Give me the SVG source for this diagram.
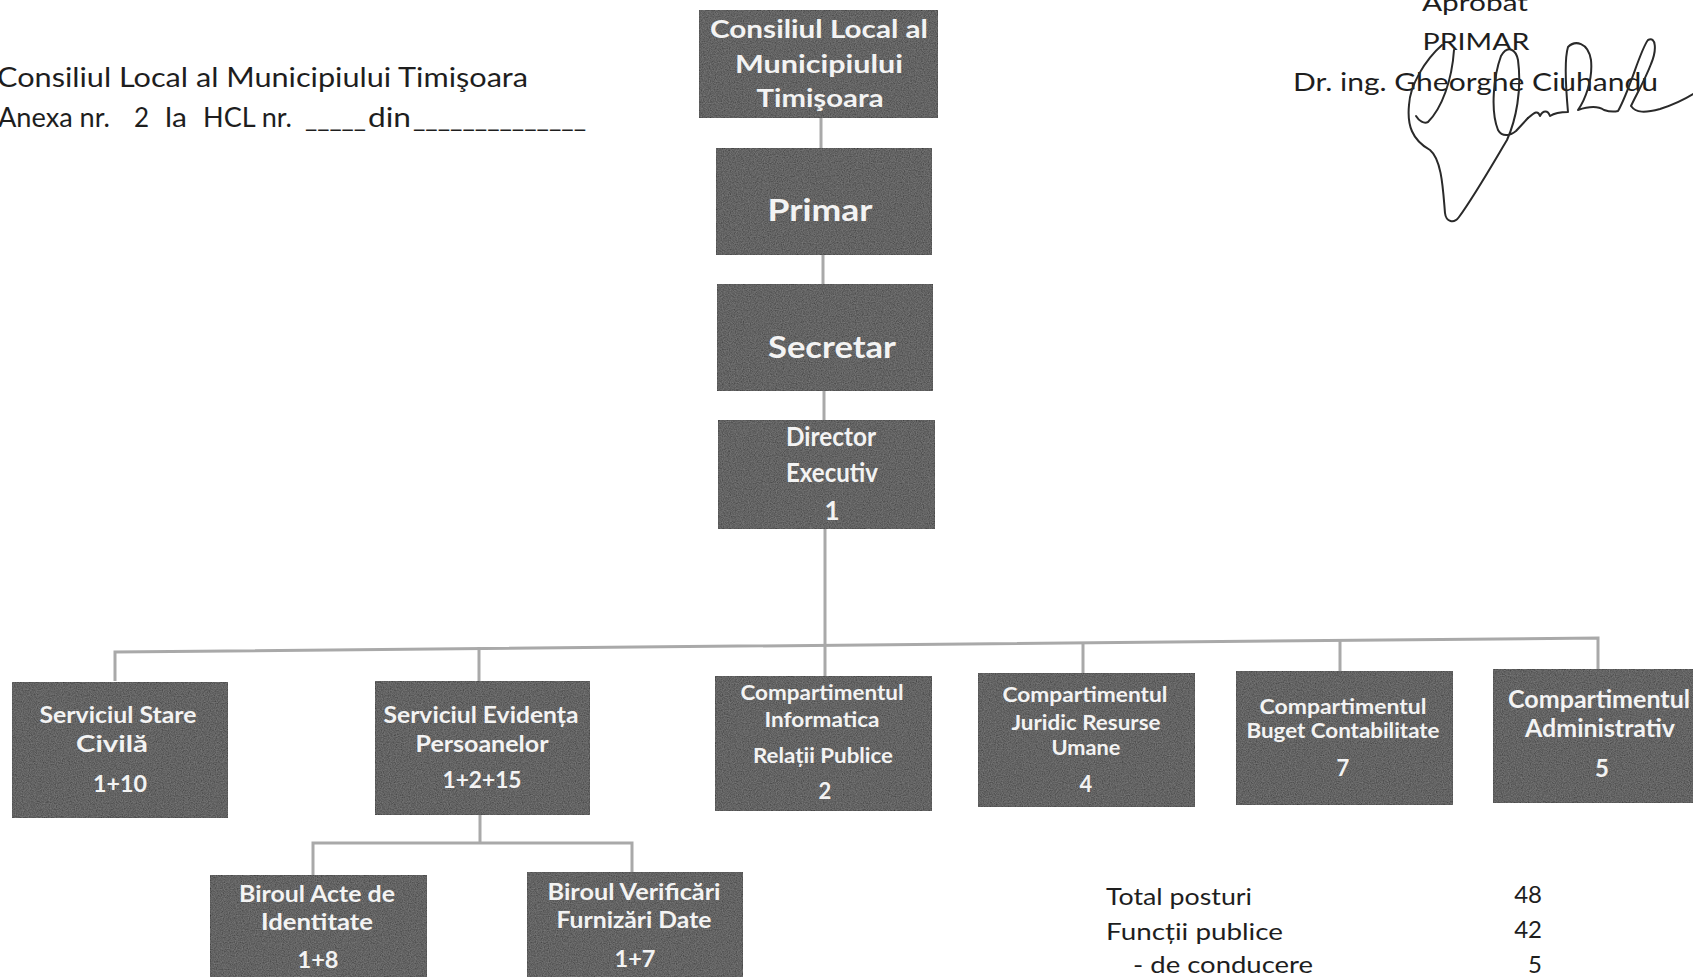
<svg xmlns="http://www.w3.org/2000/svg" width="1693" height="977" viewBox="0 0 1693 977">
<defs>
<filter id="grain" x="0" y="0" width="1" height="1">
<feTurbulence type="fractalNoise" baseFrequency="0.85" numOctaves="2" seed="3" result="n"/>
<feColorMatrix in="n" type="matrix" values="0 0 0 0 0.42  0 0 0 0 0.42  0 0 0 0 0.42  0 0 0 0.45 0" result="g"/>
<feComposite in="g" in2="SourceGraphic" operator="in" result="gi"/>
<feMerge><feMergeNode in="SourceGraphic"/><feMergeNode in="gi"/></feMerge>
</filter>
</defs>
<style>
.box{fill:#3b3b3b;stroke:#222222;stroke-width:1.5;filter:url(#grain)}
.bt{font-family:Lato,"Open Sans","Liberation Sans",sans-serif;font-weight:bold;fill:#f3f3f3;text-anchor:middle}
.rt{font-family:Lato,"Open Sans","Liberation Sans",sans-serif;fill:#1e1e1e}
.con{fill:none;stroke:#a9a9a9;stroke-width:3}
.sig{fill:none;stroke:#2a2a2a;stroke-width:2;stroke-linecap:round;stroke-linejoin:round}
</style>
<rect width="1693" height="977" fill="#ffffff"/>

<g id="header-left">
<text class="rt" x="-3" y="87" font-size="26" textLength="531" lengthAdjust="spacingAndGlyphs">Consiliul Local al Municipiului Timişoara</text>
<text class="rt" x="-2" y="127" font-size="26" textLength="112" lengthAdjust="spacingAndGlyphs">Anexa nr.</text>
<text class="rt" x="134" y="127" font-size="26">2</text>
<text class="rt" x="165" y="127" font-size="26" textLength="22" lengthAdjust="spacingAndGlyphs">la</text>
<text class="rt" x="203" y="127" font-size="26" textLength="89" lengthAdjust="spacingAndGlyphs">HCL nr.</text>
<text class="rt" x="305" y="127" font-size="26" textLength="61" lengthAdjust="spacingAndGlyphs">_____</text>
<text class="rt" x="368" y="127" font-size="26" textLength="43" lengthAdjust="spacingAndGlyphs">din</text>
<text class="rt" x="413" y="127" font-size="26" textLength="173" lengthAdjust="spacingAndGlyphs">______________</text>
</g>

<g id="header-right">
<text class="rt" x="1475" y="11" font-size="24" text-anchor="middle" textLength="106" lengthAdjust="spacingAndGlyphs">Aprobat</text>
<text class="rt" x="1476" y="50" font-size="24" text-anchor="middle" textLength="107" lengthAdjust="spacingAndGlyphs">PRIMAR</text>
<text class="rt" x="1293" y="91" font-size="25" textLength="365" lengthAdjust="spacingAndGlyphs">Dr. ing. Gheorghe Ciuhandu</text>
<path class="sig" d="M1454,50 C1452,80 1442,108 1428,122 C1424,124 1419,121 1416,116"/>
<path class="sig" d="M1442,45 C1425,60 1410,85 1409,105 C1407,125 1412,140 1430,150 C1442,160 1443,190 1445,213 C1446,222 1454,224 1459,217 C1475,195 1495,160 1507,140 C1516,120 1522,90 1518,60 C1516,50 1508,44 1501,56 C1494,75 1490,110 1498,130 C1502,137 1510,136 1516,131 L1528,118"/>
<path class="sig" d="M1528,118 C1535,112 1538,110 1540,116 C1543,110 1548,110 1550,116 C1556,112 1562,112 1568,112 C1566,90 1564,60 1568,47 C1575,40 1588,42 1591,60 C1593,80 1585,100 1578,110 C1590,106 1598,106 1604,110 C1610,112 1614,112 1618,111 C1630,90 1640,50 1648,40 C1656,36 1657,50 1651,64 C1645,80 1636,95 1631,106 C1636,113 1645,113 1660,109 C1672,105 1685,99 1693,94"/>
</g>

<g id="connectors">
<path class="con" d="M821,118 V148"/>
<path class="con" d="M823,255 V284"/>
<path class="con" d="M824,391 V420"/>
<path class="con" d="M825,529 V676"/>
<path class="con" d="M115,681 V652 L1598,638 V669"/>
<path class="con" d="M479,647 V681"/>
<path class="con" d="M1083,642 V673"/>
<path class="con" d="M1340,640 V671"/>
<path class="con" d="M480,815 V843"/>
<path class="con" d="M313,875 V843 H632 V872"/>
</g>

<g id="n-consiliu">
<rect class="box" x="699" y="10" width="239" height="108"/>
<text class="bt" x="819" y="38" font-size="25" textLength="218" lengthAdjust="spacingAndGlyphs">Consiliul Local al</text>
<text class="bt" x="819" y="73" font-size="25" textLength="168" lengthAdjust="spacingAndGlyphs">Municipiului</text>
<text class="bt" x="820" y="107" font-size="25" textLength="127" lengthAdjust="spacingAndGlyphs">Timişoara</text>
</g>

<g id="n-primar">
<rect class="box" x="716" y="148" width="216" height="107"/>
<text class="bt" x="820" y="221" font-size="31" textLength="105" lengthAdjust="spacingAndGlyphs">Primar</text>
</g>

<g id="n-secretar">
<rect class="box" x="717" y="284" width="216" height="107"/>
<text class="bt" x="832" y="358" font-size="31" textLength="128" lengthAdjust="spacingAndGlyphs">Secretar</text>
</g>

<g id="n-director">
<rect class="box" x="718" y="420" width="217" height="109"/>
<text class="bt" x="831" y="446" font-size="26" textLength="90" lengthAdjust="spacingAndGlyphs">Director</text>
<text class="bt" x="832" y="482" font-size="26" textLength="92" lengthAdjust="spacingAndGlyphs">Executiv</text>
<text class="bt" x="832" y="520" font-size="26">1</text>
</g>

<g id="n-stare">
<rect class="box" x="12" y="682" width="216" height="136"/>
<text class="bt" x="118" y="723" font-size="22" textLength="157" lengthAdjust="spacingAndGlyphs">Serviciul Stare</text>
<text class="bt" x="112" y="752" font-size="22" textLength="72" lengthAdjust="spacingAndGlyphs">Civilă</text>
<text class="bt" x="120" y="792" font-size="23" textLength="54" lengthAdjust="spacingAndGlyphs">1+10</text>
</g>

<g id="n-evidenta">
<rect class="box" x="375" y="681" width="215" height="134"/>
<text class="bt" x="481" y="723" font-size="22" textLength="195" lengthAdjust="spacingAndGlyphs">Serviciul Evidența</text>
<text class="bt" x="482" y="752" font-size="22" textLength="133" lengthAdjust="spacingAndGlyphs">Persoanelor</text>
<text class="bt" x="482" y="788" font-size="23" textLength="79" lengthAdjust="spacingAndGlyphs">1+2+15</text>
</g>

<g id="n-acte">
<rect class="box" x="210" y="875" width="217" height="112"/>
<text class="bt" x="317" y="902" font-size="23" textLength="156" lengthAdjust="spacingAndGlyphs">Biroul Acte de</text>
<text class="bt" x="317" y="930" font-size="23" textLength="112" lengthAdjust="spacingAndGlyphs">Identitate</text>
<text class="bt" x="318" y="968" font-size="23" textLength="41" lengthAdjust="spacingAndGlyphs">1+8</text>
</g>

<g id="n-verificari">
<rect class="box" x="527" y="872" width="216" height="115"/>
<text class="bt" x="634" y="900" font-size="23" textLength="173" lengthAdjust="spacingAndGlyphs">Biroul Verificări</text>
<text class="bt" x="634" y="928" font-size="23" textLength="155" lengthAdjust="spacingAndGlyphs">Furnizări Date</text>
<text class="bt" x="635" y="967" font-size="23" textLength="41" lengthAdjust="spacingAndGlyphs">1+7</text>
</g>

<g id="n-informatica">
<rect class="box" x="715" y="676" width="217" height="135"/>
<text class="bt" x="822" y="700" font-size="21" textLength="163" lengthAdjust="spacingAndGlyphs">Compartimentul</text>
<text class="bt" x="822" y="727" font-size="21" textLength="115" lengthAdjust="spacingAndGlyphs">Informatica</text>
<text class="bt" x="823" y="763" font-size="21" textLength="140" lengthAdjust="spacingAndGlyphs">Relații Publice</text>
<text class="bt" x="825" y="799" font-size="22">2</text>
</g>

<g id="n-juridic">
<rect class="box" x="978" y="673" width="217" height="134"/>
<text class="bt" x="1085" y="702" font-size="21" textLength="165" lengthAdjust="spacingAndGlyphs">Compartimentul</text>
<text class="bt" x="1086" y="730" font-size="21" textLength="149" lengthAdjust="spacingAndGlyphs">Juridic Resurse</text>
<text class="bt" x="1086" y="755" font-size="21" textLength="69" lengthAdjust="spacingAndGlyphs">Umane</text>
<text class="bt" x="1086" y="792" font-size="22">4</text>
</g>

<g id="n-buget">
<rect class="box" x="1236" y="671" width="217" height="134"/>
<text class="bt" x="1343" y="714" font-size="21" textLength="167" lengthAdjust="spacingAndGlyphs">Compartimentul</text>
<text class="bt" x="1343" y="738" font-size="21" textLength="193" lengthAdjust="spacingAndGlyphs">Buget Contabilitate</text>
<text class="bt" x="1343" y="776" font-size="22">7</text>
</g>

<g id="n-administrativ">
<rect class="box" x="1493" y="669" width="215" height="134"/>
<text class="bt" x="1599" y="708" font-size="24" textLength="182" lengthAdjust="spacingAndGlyphs">Compartimentul</text>
<text class="bt" x="1600" y="737" font-size="24" textLength="150" lengthAdjust="spacingAndGlyphs">Administrativ</text>
<text class="bt" x="1602" y="777" font-size="24">5</text>
</g>

<g id="totals">
<text class="rt" x="1106" y="905" font-size="24" textLength="146" lengthAdjust="spacingAndGlyphs">Total posturi</text>
<text class="rt" x="1542" y="903" font-size="24" text-anchor="end">48</text>
<text class="rt" x="1106" y="940" font-size="24" textLength="177" lengthAdjust="spacingAndGlyphs">Funcții publice</text>
<text class="rt" x="1542" y="938" font-size="24" text-anchor="end">42</text>
<text class="rt" x="1133" y="973" font-size="24" textLength="180" lengthAdjust="spacingAndGlyphs">- de conducere</text>
<text class="rt" x="1542" y="973" font-size="24" text-anchor="end">5</text>
</g>
</svg>
